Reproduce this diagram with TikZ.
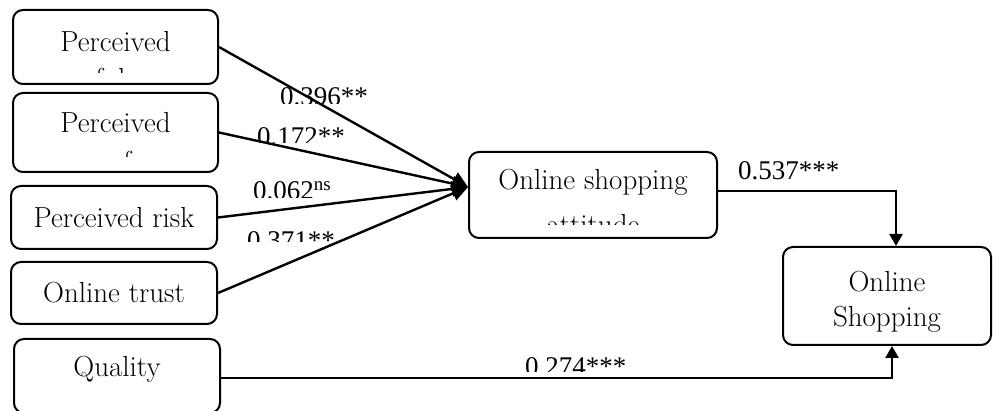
\documentclass[tikz,border=0pt]{standalone}
\usepackage{fontspec}
\newfontfamily\numfont{Liberation Serif}
\usetikzlibrary{arrows.meta}
\tikzset{
  box/.style={draw,line width=2pt,rounded corners=10pt,inner sep=0pt},
  boxtext/.style={anchor=base,inner sep=0pt,font=\fontsize{29}{33}\selectfont},
  coef/.style={anchor=base west,inner sep=0pt,font=\numfont\fontsize{27}{30}\selectfont},
  link/.style={line width=2.4pt},
  bighead/.style={-{Triangle[length=16pt,width=15pt]}},
  smallhead/.style={-{Triangle[length=12pt,width=13pt]}}
}

\begin{document}
\begin{tikzpicture}[x=1pt,y=-1pt]
    \useasboundingbox (0,0) rectangle (993,411);
    % boxes
    \node[box,minimum width=205pt,minimum height=74pt] (pu) at (115.5,47) {};
    \node[box,minimum width=205pt,minimum height=79pt] (pe) at (115.5,132.5) {};
    \node[box,minimum width=206pt,minimum height=63pt] (pr) at (114,217.5) {};
    \node[box,minimum width=206pt,minimum height=62pt] (ot) at (114,293) {};
    \node[box,minimum width=206pt,minimum height=74pt] (ql) at (117,376) {};
    \node[box,minimum width=248pt,minimum height=86pt] (att) at (593,195) {};
    \node[box,minimum width=208pt,minimum height=98pt] (osh) at (887,296) {};
    % box texts
    \node[boxtext] (put) at (115.5,52) {Perceived};
    \node[boxtext] (pet) at (115.5,133) {Perceived};
    \node[boxtext] (prt) at (114,228) {Perceived risk};
    \node[boxtext] (ott) at (114,303) {Online trust};
    \node[boxtext] (qlt) at (117,377) {Quality};
    \node[boxtext] (attt) at (593,190) {Online shopping};
    \node[boxtext] (osht) at (887,292) {Online};
    \node[boxtext] (osht2) at (887,327) {Shopping};
    \begin{scope}
      \clip (13,60) rectangle (218,73);
      \node[boxtext] (put2) at (115.5,89) {usefulness};
    \end{scope}
    \begin{scope}
      \clip (13,145) rectangle (218,157);
      \node[boxtext] (pet2) at (115.5,172) {ease of use};
    \end{scope}
    \begin{scope}
      \clip (469,205) rectangle (717,225);
      \node[boxtext] (attt2) at (593,235) {attitude};
    \end{scope}
    % paths
    \coordinate (hub) at ([yshift=8pt]att.west);
    \draw[link,bighead] (pu.east) -- (hub);
    \draw[link,bighead] (pe.east) -- (hub);
    \draw[link,bighead] (pr.east) -- (hub);
    \draw[link,bighead] (ot.east) -- (hub);
    \draw[link,smallhead] ([yshift=4pt]att.east) -| ([xshift=9pt]osh.north);
    \draw[link,smallhead] ([yshift=-2pt]ql.east) -| ([xshift=5pt]osh.south);
    % coefficients
    \begin{scope}
      \clip (240,80) rectangle (400,104);
      \node[coef] (c1) at (280,106) {0.396**};
    \end{scope}
    \begin{scope}
      \clip (240,120) rectangle (400,143);
      \node[coef] (c2) at (257,146) {0.172**};
    \end{scope}
    \begin{scope}
      \clip (240,170) rectangle (400,198);
      \node[coef] (c3) at (253,200) {0.062\textsuperscript{ns}};
    \end{scope}
    \begin{scope}
      \clip (240,225) rectangle (400,242);
      \node[coef] (c4) at (247,250) {0.371**};
    \end{scope}
    \node[coef] (c5) at (738,180) {0.537***};
    \begin{scope}
      \clip (500,350) rectangle (700,372);
      \node[coef] (c6) at (525,376) {0.274***};
    \end{scope}
\end{tikzpicture}
\end{document}
